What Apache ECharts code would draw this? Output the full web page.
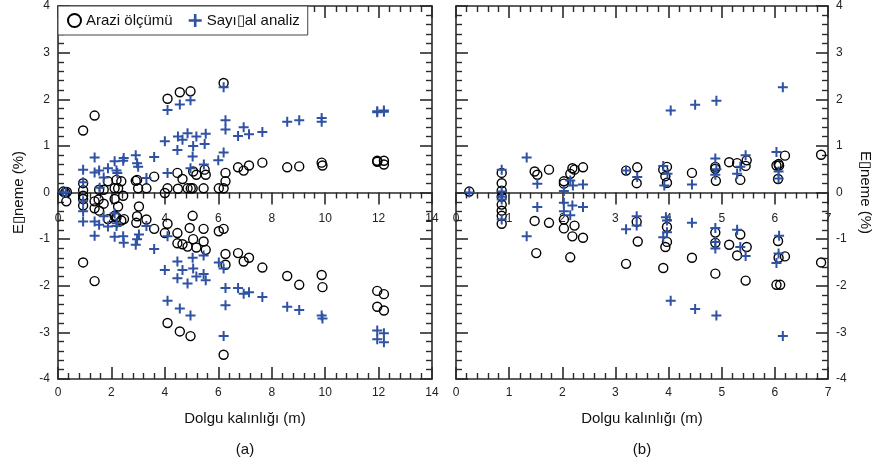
<!DOCTYPE html>
<html>
<head>
<meta charset="utf-8">
<title>Dolgu kalınlığı</title>
<script src="https://cdn.jsdelivr.net/npm/echarts@6/dist/echarts.min.js"></script>
<style>
  html, body { margin: 0; padding: 0; background: #fff; }
  #chart { width: 879px; height: 466px; }
</style>
</head>
<body>
<div id="chart"></div>
<script>
// (a) arazi ölçümü / sayısal analiz, [dolgu kalınlığı m, eğilme %]
const araziA = [
  [0.2, 0.02], [0.27, 0], [0.33, 0.01], [0.31, -0.19],
  [0.94, 1.33], [1.37, 1.65], [0.94, 0.2], [0.94, 0.05], [0.94, -0.07], [0.94, -0.14], [0.94, -0.28], [0.94, -1.5],
  [1.37, -0.19], [1.37, -0.34], [1.52, -0.15], [1.54, -0.39], [1.71, -0.24], [1.54, 0.06], [1.71, 0.06], [1.87, 0.24],
  [2.12, 0.09], [2.25, 0.09], [2.19, 0.27], [2.37, 0.24], [2.12, -0.14], [2.44, -0.07], [2.25, -0.3],
  [1.87, -0.57], [2.12, -0.5], [2.19, -0.53], [2.37, -0.6], [2.47, -0.57], [1.37, -1.9],
  [2.91, 0.25], [2.96, 0.27], [3.0, 0.09], [3.31, 0.09], [3.6, 0.34], [3.03, -0.3], [2.93, -0.65], [2.96, -0.51], [3.31, -0.58], [3.6, -0.78],
  [4.0, -0.01], [4.1, 2.01], [4.1, 0.09], [4.47, 0.42], [4.66, 0.29], [4.49, 0.08], [4.56, 2.15], [4.96, 2.17],
  [4.85, 0.09], [4.97, 0.09], [5.04, 0.09], [5.06, 0.45], [5.18, 0.38], [5.49, 0.49], [5.53, 0.38], [5.45, 0.09],
  [6.02, 0.09], [6.2, 0.09], [6.2, 2.35], [6.27, 0.42], [6.27, 0.24],
  [4.0, -0.87], [4.1, -0.67], [4.47, -0.87], [4.93, -0.76], [5.04, -0.5], [5.45, -0.78], [6.02, -0.83], [6.2, -0.78],
  [4.47, -1.09], [4.66, -1.11], [4.85, -1.16], [5.06, -1.0], [5.18, -1.18], [5.45, -1.05], [5.53, -1.23],
  [6.27, -1.32], [6.27, -1.55], [4.1, -2.8], [4.56, -2.98], [4.96, -3.08], [6.2, -3.48],
  [6.74, 0.54], [6.95, 0.47], [7.15, 0.58], [7.65, 0.64], [8.58, 0.54], [9.03, 0.56], [9.87, 0.64], [9.9, 0.58],
  [11.95, 0.66], [11.95, 0.68], [12.2, 0.68], [12.2, 0.6],
  [6.74, -1.3], [6.95, -1.48], [7.15, -1.4], [7.65, -1.61], [8.58, -1.79], [9.03, -1.98], [9.87, -1.77], [9.9, -2.03],
  [11.95, -2.11], [12.2, -2.18], [11.95, -2.45], [12.2, -2.53]
]
const sayisalA = [
  [0.2, 0], [0.3, 0], [0.94, 0.49], [0.94, 0.22], [1.37, 0.75], [1.37, 0.43], [1.54, 0.47], [1.56, 0.1], [1.71, 0.32], [1.87, 0.52],
  [2.12, 0.67], [2.19, 0.47], [2.22, 0.42], [2.44, 0.68], [2.46, 0.74], [2.91, 0.8], [2.96, 0.63], [3.0, 0.55], [3.31, 0.31], [3.6, 0.76],
  [4.0, 1.1], [4.1, 1.77], [4.1, 0.42], [4.47, 0.91], [4.49, 1.2], [4.66, 1.13], [4.56, 1.89], [4.85, 1.27], [4.96, 1.98], [4.96, 0.52],
  [5.04, 0.77], [5.06, 1.0], [5.18, 1.2], [5.49, 1.04], [5.53, 1.26], [5.46, 0.6], [6.0, 0.69], [6.2, 0.86], [6.2, 2.26], [6.27, 1.55], [6.27, 1.35],
  [6.74, 1.21], [6.95, 1.4], [7.15, 1.25], [7.65, 1.3], [8.58, 1.52], [9.03, 1.55], [9.87, 1.6], [9.87, 1.52],
  [11.95, 1.72], [11.95, 1.74], [12.2, 1.76], [12.2, 1.73],
  [0.94, -0.19], [0.94, -0.4], [0.94, -0.62], [1.37, -0.62], [1.54, -0.69], [1.37, -0.93], [1.71, -0.51], [1.87, -0.73],
  [2.12, -0.45], [2.12, -0.95], [2.19, -0.72], [2.2, -0.66], [2.44, -0.94], [2.46, -1.08],
  [2.91, -1.12], [2.96, -1.0], [3.03, -0.9], [3.31, -0.72], [3.6, -1.21], [4.0, -1.66], [4.1, -0.94], [4.1, -2.32],
  [4.47, -1.48], [4.47, -1.84], [4.66, -1.66], [4.56, -2.49], [4.85, -1.95], [4.96, -2.64],
  [5.04, -1.4], [5.06, -1.63], [5.18, -1.8], [5.45, -1.35], [5.45, -1.75], [5.53, -1.88], [6.02, -1.5], [6.2, -1.63],
  [6.27, -2.05], [6.27, -2.42], [6.2, -3.08],
  [6.74, -2.05], [6.95, -2.17], [7.15, -2.14], [7.65, -2.24], [8.58, -2.45], [9.03, -2.52], [9.87, -2.64], [9.9, -2.7],
  [11.95, -2.96], [12.2, -3.02], [11.95, -3.15], [12.2, -3.21]
]

// (b)
const araziB = [
  [0.25, 0.02],
  [0.86, 0.42], [0.86, 0.2], [0.86, 0.04], [0.86, -0.09], [0.86, -0.26], [0.86, -0.39], [0.86, -0.5], [0.86, -0.67],
  [1.48, 0.45], [1.53, 0.38], [1.75, 0.49], [2.03, 0.24], [2.03, 0.19], [2.15, 0.4], [2.19, 0.52], [2.23, 0.49], [2.39, 0.54],
  [3.2, 0.47], [3.41, 0.54], [3.4, 0.2], [3.9, 0.49], [3.94, 0.35], [3.97, 0.55], [3.97, 0.21], [4.44, 0.42],
  [4.88, 0.55], [4.88, 0.51], [4.89, 0.25], [5.14, 0.65], [5.29, 0.63], [5.35, 0.27], [5.45, 0.57], [5.47, 0.69],
  [6.03, 0.58], [6.07, 0.61], [6.08, 0.58], [6.06, 0.29], [6.19, 0.79], [6.87, 0.81],
  [1.48, -0.61], [1.51, -1.3], [1.75, -0.65], [2.03, -0.58], [2.03, -0.77], [2.19, -0.94], [2.23, -0.71], [2.39, -0.97], [2.15, -1.39],
  [3.2, -1.53], [3.4, -0.63], [3.42, -1.05], [3.9, -1.62], [3.94, -1.17], [3.97, -1.06], [3.97, -0.74], [4.44, -1.4],
  [4.88, -0.86], [4.88, -1.08], [4.88, -1.74], [5.14, -1.12], [5.29, -1.35], [5.35, -0.9], [5.45, -1.89], [5.47, -1.17],
  [6.06, -1.04], [6.07, -1.4], [6.19, -1.37], [6.03, -1.98], [6.1, -1.98], [6.87, -1.5]
]
const sayisalB = [
  [0.25, 0], [0.86, 0.49], [0.86, 0.02], [0.86, -0.09], [0.86, -0.15], [0.86, -0.58], [1.33, 0.75], [1.53, 0.19],
  [2.03, 0.03], [2.15, 0.26], [2.2, 0.15], [2.39, 0.17],
  [3.2, 0.47], [3.41, 0.33], [3.9, 0.57], [3.98, 0.4], [3.92, 0.15], [4.04, 1.76], [4.5, 1.88], [4.9, 1.97],
  [4.44, 0.17], [4.88, 0.73], [4.9, 0.5], [4.88, 0.38],
  [5.45, 0.8], [5.29, 0.4], [5.35, 0.55], [6.03, 0.87], [6.07, 0.45], [6.07, 0.3], [6.15, 2.26],
  [1.33, -0.94], [1.53, -0.31], [2.03, -0.22], [2.03, -0.4], [2.15, -0.49], [2.19, -0.28], [2.39, -0.31],
  [3.2, -0.79], [3.4, -0.51], [3.4, -0.71], [3.9, -0.96], [3.95, -0.53], [3.97, -0.6], [3.97, -0.85], [4.04, -2.32],
  [4.44, -0.65], [4.5, -2.5], [4.9, -2.64],
  [4.88, -0.76], [4.88, -1.06], [4.88, -1.2], [5.29, -0.8], [5.35, -1.17], [5.45, -1.36],
  [6.08, -0.93], [6.07, -1.31], [6.03, -1.51], [6.15, -3.08]
]

const xMaxA = 14, xStepA = 2
const xMaxB = 7, xStepB = 1
const yMin = -4, yMax = 4, yStep = 1

const FONT = 'Liberation Sans, Arial, sans-serif'
const LINE = '#2a2a2a'
const BLUE = '#2f52a4'
const yName = 'E\u25AFneme (%)'
const xName = 'Dolgu kalınlığı (m)'
const plusPath = 'path://M4,0H6V4H10V6H6V10H4V6H0V4H4Z'

// plot frame and the extra grid whose bottom edge sits on y = 0
const plotTop = 6, plotH = 373
const frames = [{ left: 58, width: 374 }, { left: 456, width: 372 }]

function axis(o) {
  return {
    type: 'value',
    gridIndex: o.grid,
    position: o.position,
    min: o.min,
    max: o.max,
    interval: o.interval,
    splitLine: { show: false },
    axisLine: { show: true, onZero: false, lineStyle: { color: LINE, width: 1.6 } },
    axisTick: { show: true, inside: o.inside !== false, length: 12, lineStyle: { color: LINE, width: 1.6 } },
    minorTick: { show: true, splitNumber: 5, length: 6, lineStyle: { color: LINE, width: 1.4 } },
    axisLabel: {
      show: !!o.label,
      margin: o.margin || 8,
      color: '#222',
      fontSize: 12,
      fontFamily: FONT,
      showMinLabel: true,
      showMaxLabel: true
    },
    name: o.name,
    nameLocation: 'middle',
    nameGap: o.nameGap,
    nameRotate: o.nameRotate,
    nameTextStyle: { fontSize: 15, fontFamily: FONT, color: '#111' }
  }
}

let chart = echarts.init(document.getElementById('chart'), null, { renderer: 'canvas' })

let option = {
  animation: false,
  backgroundColor: '#fff',
  grid: [
    { left: frames[0].left, top: plotTop, width: frames[0].width, height: plotH, outerBoundsMode: 'none' },
    { left: frames[1].left, top: plotTop, width: frames[1].width, height: plotH, outerBoundsMode: 'none' },
    { left: frames[0].left, top: plotTop, width: frames[0].width, height: plotH / 2, outerBoundsMode: 'none' },
    { left: frames[1].left, top: plotTop, width: frames[1].width, height: plotH / 2, outerBoundsMode: 'none' }
  ],
  legend: {
    left: 58,
    top: 6,
    orient: 'horizontal',
    data: ['Arazi ölçümü', 'Sayı\u25AFal analiz'],
    itemWidth: 13,
    itemHeight: 13,
    itemGap: 16,
    padding: [7, 8, 7, 9],
    backgroundColor: '#fff',
    borderColor: '#444',
    borderWidth: 1,
    borderRadius: 0,
    textStyle: { fontSize: 15, fontFamily: FONT, color: '#111' },
    z: 10
  },
  xAxis: [
    axis({ grid: 0, position: 'bottom', min: 0, max: xMaxA, interval: xStepA, label: true, name: xName, nameGap: 32 }),
    axis({ grid: 0, position: 'top', min: 0, max: xMaxA, interval: xStepA }),
    axis({ grid: 2, position: 'bottom', min: 0, max: xMaxA, interval: xStepA, label: true, inside: false, margin: 20 }),
    axis({ grid: 1, position: 'bottom', min: 0, max: xMaxB, interval: xStepB, label: true, name: xName, nameGap: 32 }),
    axis({ grid: 1, position: 'top', min: 0, max: xMaxB, interval: xStepB }),
    axis({ grid: 3, position: 'bottom', min: 0, max: xMaxB, interval: xStepB, label: true, inside: false, margin: 20 })
  ],
  yAxis: [
    axis({ grid: 0, position: 'left', min: yMin, max: yMax, interval: yStep, label: true, name: yName, nameGap: 32, nameRotate: 90 }),
    axis({ grid: 0, position: 'right', min: yMin, max: yMax, interval: yStep }),
    axis({ grid: 1, position: 'left', min: yMin, max: yMax, interval: yStep }),
    axis({ grid: 1, position: 'right', min: yMin, max: yMax, interval: yStep, label: true, name: yName, nameGap: 30, nameRotate: -90 }),
    { type: 'value', gridIndex: 2, min: 0, max: yMax, show: false },
    { type: 'value', gridIndex: 3, min: 0, max: yMax, show: false }
  ],
  graphic: [
    { type: 'text', x: 245, y: 450, style: { text: '(a)', align: 'center', verticalAlign: 'middle', font: '15px ' + FONT, fill: '#111' } },
    { type: 'text', x: 642, y: 450, style: { text: '(b)', align: 'center', verticalAlign: 'middle', font: '15px ' + FONT, fill: '#111' } }
  ],
  series: [
    {
      name: 'Arazi ölçümü', type: 'scatter', xAxisIndex: 0, yAxisIndex: 0, data: araziA,
      symbol: 'circle', symbolSize: 9,
      itemStyle: { color: 'rgba(0,0,0,0)', borderColor: '#000', borderWidth: 1.4, opacity: 1 }
    },
    {
      name: 'Sayı\u25AFal analiz', type: 'scatter', xAxisIndex: 0, yAxisIndex: 0, data: sayisalA,
      symbol: plusPath, symbolSize: 10,
      itemStyle: { color: BLUE, opacity: 1 }
    },
    {
      name: 'Arazi ölçümü', type: 'scatter', xAxisIndex: 3, yAxisIndex: 2, data: araziB,
      symbol: 'circle', symbolSize: 9,
      itemStyle: { color: 'rgba(0,0,0,0)', borderColor: '#000', borderWidth: 1.4, opacity: 1 }
    },
    {
      name: 'Sayı\u25AFal analiz', type: 'scatter', xAxisIndex: 3, yAxisIndex: 2, data: sayisalB,
      symbol: plusPath, symbolSize: 10,
      itemStyle: { color: BLUE, opacity: 1 }
    }
  ]
}

chart.setOption(option)
</script>
</body>
</html>
